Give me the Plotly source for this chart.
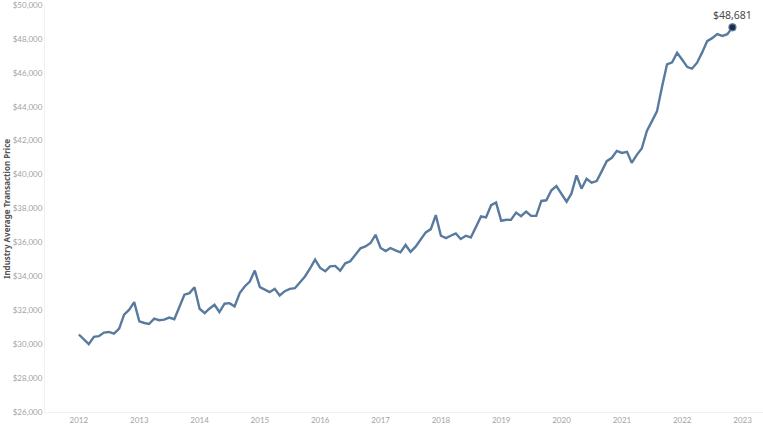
import plotly.graph_objects as go
import pandas as pd

# monthly industry average transaction price, Jan 2012 - Nov 2022
months = pd.date_range("2012-01-01", "2022-11-01", freq="MS")
atp = [
    30570, 30275, 30000, 30430, 30470, 30685, 30720, 30625, 30920, 31740, 32035, 32480,
    31350, 31250, 31190, 31505, 31410, 31450, 31565, 31470, 32190, 32915, 33010, 33360,
    32090, 31835, 32090, 32325, 31895, 32385, 32420, 32230, 33010, 33400, 33695, 34340,
    33360, 33205, 33065, 33265, 32875, 33125, 33265, 33300, 33680, 33990, 34475, 34985,
    34495, 34300, 34590, 34615, 34340, 34770, 34885, 35260, 35650, 35765, 35965, 36450,
    35670, 35495, 35670, 35530, 35415, 35850, 35440, 35750, 36140, 36590, 36785, 37610,
    36395, 36255, 36395, 36530, 36200, 36395, 36295, 36920, 37530, 37470, 38195, 38350,
    37275, 37335, 37330, 37760, 37550, 37820, 37565, 37565, 38445, 38485, 39075, 39325,
    38840, 38405, 38875, 39955, 39170, 39755, 39520, 39620, 40205, 40790, 40990, 41400,
    41280, 41340, 40690, 41165, 41535, 42580, 43140, 43725, 45200, 46500, 46615, 47185,
    46770, 46340, 46245, 46600, 47190, 47870, 48045, 48280, 48180, 48280, 48681,
]
last_label = "$48,681"

y_ticks = list(range(26000, 50001, 2000))
y_labels = ["${:,}".format(v) for v in y_ticks]

grey = "#a3a3a3"
line_col = "#587a9e"


def make_chart():
    fig = go.Figure()
    fig.add_trace(go.Scatter(
        x=months, y=atp, mode="lines",
        line=dict(color=line_col, width=2.4),
        hoverinfo="skip", showlegend=False,
    ))
    # highlighted last point
    fig.add_trace(go.Scatter(
        x=[months[-1]], y=[atp[-1]], mode="markers+text",
        marker=dict(color="#1c2f4a", size=7, line=dict(color="#5d7898", width=1.2)),
        text=[last_label], textposition="top center",
        textfont=dict(family="Noto Sans", size=10.5, color="#4a4a4a"),
        showlegend=False, cliponaxis=False,
    ))

    fig.update_layout(
        width=763, height=429,
        margin=dict(l=45, r=0, t=5, b=17),
        paper_bgcolor="white", plot_bgcolor="white",
        font=dict(family="Lato", size=8, color=grey),
    )
    fig.update_xaxes(
        range=["2011-06-10", "2023-05-05"],
        dtick="M12", tick0="2012-01-01", tickformat="%Y",
        showgrid=False, zeroline=False, automargin=False,
        showline=True, linecolor="#f0f0f0", linewidth=1,
        ticks="", ticklen=0, tickfont=dict(size=8, color=grey),
    )
    fig.update_yaxes(
        range=[26000, 50000],
        tickvals=y_ticks, ticktext=y_labels,
        showgrid=False, zeroline=False, automargin=False,
        ticklabeloverflow="allow",
        showline=True, linecolor="#f0f0f0", linewidth=1,
        ticks="", ticklen=0, tickfont=dict(size=8, color=grey),
    )
    fig.add_annotation(
        text="<b>Industry Average Transaction Price</b>",
        xref="paper", yref="paper", x=-0.054, y=0.5,
        xanchor="center", yanchor="middle",
        textangle=-90, showarrow=False,
        font=dict(family="Noto Sans", size=8, color="#555555"),
    )
    # page body has a default margin; drop it so the chart sits at the corner
    fig.write_html("out.html", config={"displayModeBar": False},
                   post_script="document.body.style.margin='0';")


if __name__ == '__main__':
    make_chart()
